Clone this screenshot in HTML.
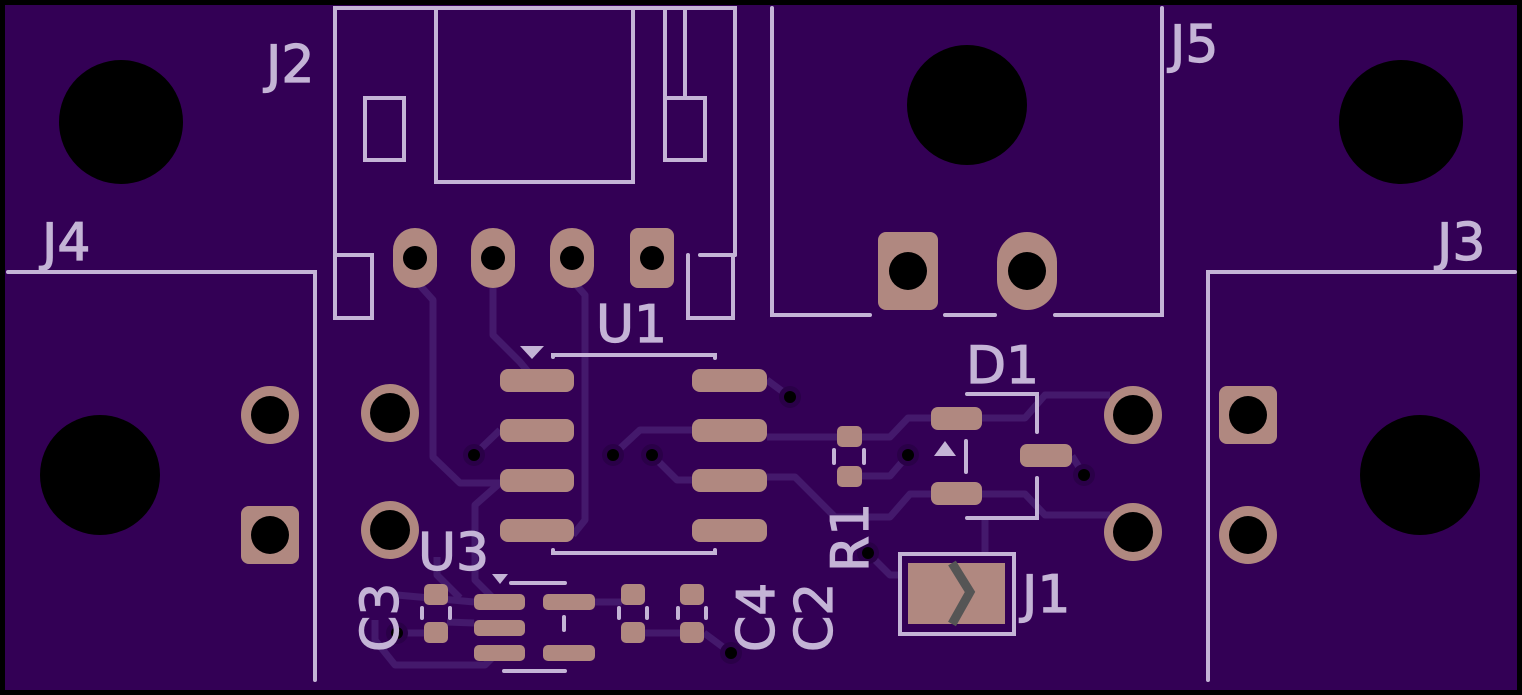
<!DOCTYPE html>
<html><head><meta charset="utf-8"><style>
html,body{margin:0;padding:0;background:#000;}
svg{display:block}
text{font-family:"DejaVu Sans","Liberation Sans",sans-serif;fill:#c4b4d6;stroke:#c4b4d6;stroke-width:1.2;}
</style></head><body>
<svg width="1522" height="695" viewBox="0 0 1522 695" xmlns="http://www.w3.org/2000/svg">
<rect x="0" y="0" width="1522" height="695" fill="#000"/>
<rect x="5" y="5" width="1512" height="685" fill="#330055"/>

<g stroke="#44196c" stroke-width="7" fill="none" stroke-linejoin="round">
<path d="M415,280 L433,300 L433,457 L460,483 L500,483"/>
<path d="M493,280 L493,335 L520,362 L535,380"/>
<path d="M572,280 L585,295 L585,520 L573,535"/>
<path d="M500,483 L475,505 L475,580 L495,600"/>
<path d="M474,455 L500,430"/>
<path d="M767,380 L790,397"/>
<path d="M613,455 L640,430 L693,430"/>
<path d="M652,455 L677,480 L693,480"/>
<path d="M767,437 L890,437 L908,418 L931,418"/>
<path d="M982,418 L1025,418 L1045,395 L1110,395"/>
<path d="M767,477 L795,477 L835,517 L890,517 L910,494 L931,494"/>
<path d="M982,494 L1025,494 L1045,515 L1110,515"/>
<path d="M861,476 L890,476 L908,455"/>
<path d="M868,553 L890,575 L900,575"/>
<path d="M985,518 L985,555"/>
<path d="M1072,456 L1084,475"/>
<path d="M397,595 L474,602"/>
<path d="M397,633 L425,633"/>
<path d="M447,622 L474,623"/>
<path d="M594,602 L622,602"/>
<path d="M645,633 L681,633"/>
<path d="M704,633 L731,653"/>
<path d="M375,620 L375,640 L395,665 L485,665 L500,650"/>
<path d="M437,557 L437,575 L460,598"/>
</g>

<g>
<g fill="#2a0048"><circle cx="790" cy="397" r="11"/><circle cx="474" cy="455" r="11"/><circle cx="613" cy="455" r="11"/><circle cx="652" cy="455" r="11"/><circle cx="908" cy="455" r="11"/><circle cx="1084" cy="475" r="11"/><circle cx="397" cy="633" r="11"/><circle cx="731" cy="653" r="11"/><circle cx="868" cy="553" r="11"/></g>
<g fill="#000"><circle cx="790" cy="397" r="6"/><circle cx="474" cy="455" r="6"/><circle cx="613" cy="455" r="6"/><circle cx="652" cy="455" r="6"/><circle cx="908" cy="455" r="6"/><circle cx="1084" cy="475" r="6"/><circle cx="397" cy="633" r="6"/><circle cx="731" cy="653" r="6"/><circle cx="868" cy="553" r="6"/></g>
</g>

<g fill="#000">
<circle cx="121" cy="122" r="62"/><circle cx="1401" cy="122" r="62"/>
<circle cx="967" cy="105" r="60"/>
<circle cx="100" cy="475" r="60"/><circle cx="1420" cy="475" r="60"/>
</g>

<g fill="#b08880">
<rect x="393" y="228" width="44" height="60" rx="22"/>
<rect x="471" y="228" width="44" height="60" rx="22"/>
<rect x="550" y="228" width="44" height="60" rx="22"/>
<rect x="630" y="228" width="44" height="60" rx="8"/>
<rect x="878" y="232" width="60" height="78" rx="8"/>
<rect x="997" y="232" width="60" height="78" rx="30"/>
<circle cx="270" cy="415" r="29"/>
<rect x="241" y="506" width="58" height="58" rx="8"/>
<circle cx="390" cy="413" r="29"/><circle cx="390" cy="530" r="29"/>
<circle cx="1133" cy="415" r="29"/><circle cx="1133" cy="532" r="29"/>
<rect x="1219" y="386" width="58" height="58" rx="8"/>
<circle cx="1248" cy="535" r="29"/>
</g>
<g fill="#000">
<circle cx="415" cy="258" r="12"/><circle cx="493" cy="258" r="12"/><circle cx="572" cy="258" r="12"/><circle cx="652" cy="258" r="12"/>
<circle cx="908" cy="271" r="19"/><circle cx="1027" cy="271" r="19"/>
<circle cx="270" cy="415" r="19"/><circle cx="270" cy="535" r="19"/>
<circle cx="390" cy="413" r="20"/><circle cx="390" cy="530" r="20"/>
<circle cx="1133" cy="415" r="20"/><circle cx="1133" cy="532" r="20"/>
<circle cx="1248" cy="415" r="19"/><circle cx="1248" cy="535" r="19"/>
</g>

<g fill="#b08880">
<rect x="500" y="369" width="74" height="23" rx="8"/><rect x="500" y="419" width="74" height="23" rx="8"/><rect x="500" y="469" width="74" height="23" rx="8"/><rect x="500" y="519" width="74" height="23" rx="8"/>
<rect x="692" y="369" width="75" height="23" rx="8"/><rect x="692" y="419" width="75" height="23" rx="8"/><rect x="692" y="469" width="75" height="23" rx="8"/><rect x="692" y="519" width="75" height="23" rx="8"/>
<rect x="931" y="407" width="51" height="23" rx="7"/><rect x="931" y="482" width="51" height="23" rx="7"/><rect x="1020" y="444" width="52" height="23" rx="7"/>
<rect x="837" y="426" width="25" height="21" rx="5"/><rect x="837" y="466" width="25" height="21" rx="5"/>
<rect x="474" y="594" width="51" height="16" rx="5"/><rect x="474" y="620" width="51" height="16" rx="5"/><rect x="474" y="645" width="51" height="16" rx="5"/>
<rect x="543" y="594" width="52" height="16" rx="5"/><rect x="543" y="645" width="52" height="16" rx="5"/>
<rect x="424" y="584" width="24" height="21" rx="5"/><rect x="424" y="622" width="24" height="21" rx="5"/>
<rect x="621" y="584" width="24" height="21" rx="5"/><rect x="621" y="622" width="24" height="21" rx="5"/>
<rect x="680" y="584" width="24" height="21" rx="5"/><rect x="680" y="622" width="24" height="21" rx="5"/>
<rect x="908" y="563" width="97" height="61"/>
</g>
<path d="M952,563 L970,592 L952,624" stroke="#555" stroke-width="9" fill="none"/>

<g stroke="#c4b4d6" stroke-width="4" fill="none" stroke-linecap="round">
<path d="M335,318 L335,8 L735,8 L735,255"/>
<rect x="436" y="8" width="197" height="174"/>
<rect x="365" y="98" width="39" height="62"/>
<rect x="665" y="98" width="40" height="62"/>
<path d="M665,10 L665,98 M685,10 L685,98"/>
<rect x="335" y="255" width="37" height="63"/>
<path d="M688,255 L688,318 L733,318 L733,255"/>
<path d="M735,255 L700,255"/>
<path d="M772,8 L772,315 L870,315 M945,315 L995,315 M1055,315 L1162,315 L1162,8"/>
<path d="M8,272 L315,272 L315,680"/>
<path d="M1515,272 L1208,272 L1208,680"/>
<path d="M553,357 L553,355 L715,355 L715,358 M553,550 L553,553 L715,553 L715,550"/>
<path d="M967,394 L1037,394 L1037,432 M1037,478 L1037,518 L967,518 M966,441 L966,472"/>
<path d="M834,450 L834,463 M864,450 L864,463"/>
<path d="M511,583 L565,583 M504,671 L565,671 M564,617 L564,630"/>
<path d="M422,608 L422,618 M450,608 L450,618 M619,608 L619,618 M647,608 L647,618 M678,608 L678,618 M706,608 L706,618"/>
<rect x="900" y="554" width="114" height="80"/>
</g>
<g fill="#c4b4d6">
<polygon points="520,346 544,346 532,359"/>
<polygon points="934,456 956,456 945,441"/>
<polygon points="492,574 508,574 500,584"/>
</g>

<g font-size="52">
<text x="266" y="82">J2</text>
<text x="1170" y="62">J5</text>
<text x="42" y="260">J4</text>
<text x="1437" y="260">J3</text>
<text x="596" y="342">U1</text>
<text x="966" y="383">D1</text>
<text x="418" y="570">U3</text>
<text x="1022" y="612">J1</text>
<text transform="translate(868,572) rotate(-90)">R1</text>
<text transform="translate(832,652) rotate(-90)">C2</text>
<text transform="translate(774,652) rotate(-90)">C4</text>
<text transform="translate(398,652) rotate(-90)">C3</text>
</g>
</svg>
</body></html>
